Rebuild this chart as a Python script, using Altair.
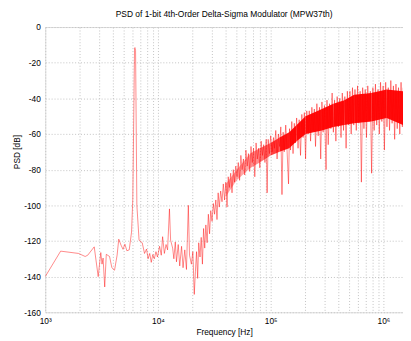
import altair as alt
import pandas as pd

# ---- data ----
low_freq = [1000, 1370, 1975, 2260, 2380, 2720, 2950, 3110, 3190, 3260, 3370, 3480, 3720, 3900,
            4120, 4340, 4490, 4700, 4900, 5090, 5300, 5560, 5830, 5980, 6200, 6250, 6330, 6500,
            6800, 7250, 7600, 7920, 8170, 8450, 8720, 9000, 9280, 9600, 9900, 10340, 10700,
            11000, 11400, 11800, 12170, 12650, 12950, 13500, 13840, 14250, 14600, 15130, 15600,
            16200, 16700, 17300, 17900, 18600, 19050, 19800, 20400, 21000]
low_db = [-140, -125.7, -127, -128.7, -128, -123.3, -140, -126.5, -133, -129.6, -145.8, -127.5,
          -128.7, -135, -136.4, -128, -119, -122.3, -124.7, -121.8, -125.5, -125, -115, -96.7,
          -12, -11.5, -13, -100, -119.6, -121, -127, -124.5, -130, -127, -132, -127.6, -130,
          -126, -129, -123, -128, -117.6, -127, -122, -125, -102, -119.6, -124, -130, -120.6,
          -131.7, -122, -134, -123, -135, -125, -136, -100, -128, -133, -126, -150]

hf_khz = [21.5, 22.0, 22.5, 23.0, 23.6, 24.2, 24.8, 25.4, 26.0, 26.6, 27.3, 28.0, 28.7, 29.4,
          30.2, 31.0, 31.8, 32.6, 33.4, 34.2, 35.0, 36.0, 37.0, 38.0, 39.0, 40.0, 41.0, 42.0,
          43.0, 44.2, 45.4, 46.6, 47.8, 49.0, 50.3, 51.6, 53.0, 54.4, 55.8, 57.3, 58.8, 60.3,
          61.9, 63.5, 65.2, 66.9, 68.7, 70.5, 72.3, 74.2, 76.1, 78.1, 80.2, 82.3, 84.5, 86.7,
          89.0, 91.3, 93.0, 95.0, 97.5, 100, 103, 106, 108, 111, 114, 117, 120, 123, 126, 129,
          132, 136, 139, 144, 147, 150, 154, 158, 162, 166, 170, 175, 179, 184, 189, 194, 199,
          204, 209, 215, 220, 226, 232, 238, 244, 250, 257, 264, 271, 278, 285, 292, 300, 310,
          316, 324, 333, 342, 351, 360, 369, 379, 389, 399, 410, 421, 432, 443, 455, 467, 479,
          492, 505, 518, 532, 546, 560, 575, 590, 606, 622, 638, 655, 672, 690, 708, 727, 746,
          766, 786, 807, 828, 850, 873, 896, 920, 944, 969, 995, 1021, 1048, 1076, 1105, 1134,
          1164, 1195, 1227, 1259, 1293, 1327, 1362, 1398, 1435, 1473, 1500]
hf_db = [-137, -126, -141, -121, -129, -118, -133, -113, -124, -111, -121, -105, -116, -103,
         -109, -99, -105, -97, -108, -93, -101, -92, -98, -88, -97, -87, -101, -84, -90, -82,
         -93, -80, -87, -78,
         -84, -76, -86, -72, -80, -74, -83, -69, -78, -71, -81, -67, -76, -68, -84, -65, -74,
         -68, -79, -64, -72, -66, -76, -63, -93, -63, -71,
         -61, -70, -62, -68, -58, -74, -60, -67, -56, -94, -59, -70, -55, -66, -88, -57, -69,
         -53, -71, -54, -65, -51, -68, -52, -72, -49, -62, -48, -74, -47,
         -60, -47, -64, -45, -58, -46, -67, -43, -61, -45, -74, -42, -59, -44, -80, -41, -66,
         -43, -57, -37, -59, -41, -64, -39, -56, -40, -62, -37, -58, -39, -68, -36, -55,
         -36, -60, -34, -55, -35, -58, -33, -54, -36, -87, -34, -57, -35, -62, -33, -53, -36,
         -82, -34, -58, -32, -55, -35, -60, -31, -53, -33, -69, -31, -56, -34, -58, -30, -54,
         -33, -63, -32, -57, -34, -60, -31, -56, -34]

# dense core of the noise band (upper / lower edge)
core_khz = [40, 50, 66, 80, 100, 120, 146, 170, 204, 285, 360, 450, 550, 780, 1070, 1500]
core_hi = [-88, -80, -71, -68, -65, -62, -59, -55, -50, -46, -43, -41, -38, -37, -35, -36]
core_lo = [-95, -86, -79, -76, -72, -70, -68, -64, -60, -58, -56, -55, -54, -53, -51, -55]
core_alpha = [0.35, 0.35, 0.45, 0.55, 0.75, 0.9, 0.95, 0.95, 0.95, 0.95, 0.95, 0.95, 0.95,
              0.95, 0.95, 0.95]

x_grid = [1000, 2000, 3000, 4000, 5000, 6000, 7000, 8000, 9000,
          10000, 20000, 30000, 40000, 50000, 60000, 70000, 80000, 90000,
          100000, 200000, 300000, 400000, 500000, 600000, 700000, 800000, 900000, 1000000]
y_ticks = [-160, -140, -120, -100, -80, -60, -40, -20, 0]

line_df = pd.DataFrame({
    "f": low_freq + [k * 1000 for k in hf_khz],
    "db": low_db + hf_db,
})
line_df["i"] = range(len(line_df))
seg_rows = []
for j in range(len(core_khz) - 1):
    for k in (j, j + 1):
        seg_rows.append({"seg": j, "f": core_khz[k] * 1000, "hi": core_hi[k],
                         "lo": core_lo[k], "a": core_alpha[j]})
seg_df = pd.DataFrame(seg_rows)

FONT = "Liberation Sans"
xscale = alt.Scale(type="log", domain=[1000, 1493000], nice=False)
yscale = alt.Scale(domain=[-160, 0], nice=False)
GRID = "#c2c2c2"

xaxis = alt.Axis(
    values=x_grid,
    labelExpr="datum.value == 1000 ? '10³' : datum.value == 10000 ? '10⁴' : "
              "datum.value == 100000 ? '10⁵' : datum.value == 1000000 ? '10⁶' : ''",
    grid=True, gridDash=[1, 2], gridColor=GRID, gridWidth=1,
    ticks=False, domain=False, labelFont=FONT, labelFontSize=8.5, labelColor="#000",
    labelPadding=4, labelFlush=False, labelOverlap=False,
    title="Frequency [Hz]", titleFont=FONT, titleFontSize=8.5, titleFontWeight="normal",
    titleColor="#000", titlePadding=3,
)
yaxis = alt.Axis(
    values=y_ticks, labelExpr="'' + datum.value",
    grid=True, gridDash=[1, 2], gridColor=GRID, gridWidth=1,
    ticks=False, domain=False, labelFont=FONT, labelFontSize=8.5, labelColor="#000",
    labelPadding=5, labelOverlap=False, labelBound=False,
    title="PSD [dB]", titleFont=FONT, titleFontSize=8.5, titleFontWeight="normal",
    titleColor="#000", titlePadding=2, titleY=127,
)

area = alt.Chart(seg_df).mark_area(color="#ff0000", clip=True).encode(
    x=alt.X("f:Q", scale=xscale, axis=xaxis),
    y=alt.Y("hi:Q", scale=yscale, axis=yaxis),
    y2="lo:Q",
    detail="seg:N",
    opacity=alt.Opacity("a:Q", scale=None, legend=None),
)
line = alt.Chart(line_df).mark_line(color="#ff0000", strokeWidth=0.55, opacity=0.85,
                                    clip=True).encode(
    x=alt.X("f:Q", scale=xscale, axis=xaxis),
    y=alt.Y("db:Q", scale=yscale, axis=yaxis),
    order="i:Q",
)

chart = alt.layer(area, line).resolve_axis(x="shared", y="shared").properties(
    width=365, height=291,
    title=alt.Title("PSD of 1-bit 4th-Order Delta-Sigma Modulator (MPW37th)",
                    font=FONT, fontSize=8.6, fontWeight="normal", color="#000",
                    anchor="middle", offset=5),
    autosize=alt.AutoSizeParams(type="none"),
    padding={"left": 38, "top": 16, "right": 0, "bottom": 32},
).configure_view(stroke="#303030", strokeWidth=0.8).configure(background="white")

chart.save("out.html", embed_options={"renderer": "svg", "actions": False})
